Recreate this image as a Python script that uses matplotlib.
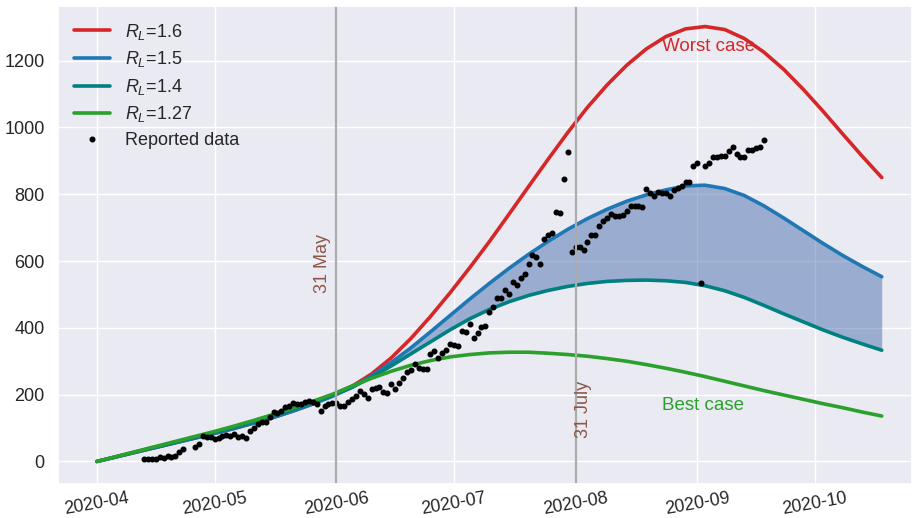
import matplotlib
matplotlib.use("Agg")
import matplotlib.pyplot as plt
import numpy as np
import pandas as pd
import seaborn as sns

# model curves, every 5 days from 2020-04-01
curve_dates = pd.date_range("2020-04-01", "2020-10-18", freq="5D")
r_160 = [0, 14, 28, 42, 56, 70, 84, 99, 115, 132, 151, 172, 197,
         225, 262, 310, 368, 434, 505, 580, 658, 740, 823, 905, 985, 1060,
         1127, 1186, 1235, 1272, 1295, 1302, 1293, 1266, 1225, 1174, 1114,
         1049, 981, 914, 850]
r_150 = [0, 14, 28, 42, 56, 70, 84, 99, 115, 132, 151, 172, 195,
         222, 256, 296, 340, 388, 437, 486, 533, 578, 620, 659, 695, 727,
         755, 779, 798, 813, 825, 827, 817, 796, 765, 729, 691, 653, 617,
         584, 553]
r_140 = [0, 14, 29, 43, 57, 72, 87, 102, 119, 136, 155, 176, 198,
         222, 252, 286, 322, 358, 394, 427, 455, 478, 497, 512, 524, 533,
         539, 542, 543, 541, 536, 526, 511, 491, 467, 442, 418, 394, 372,
         352, 333]
r_127 = [0, 15, 30, 45, 60, 75, 90, 106, 123, 141, 160, 180, 201,
         226, 249, 270, 288, 302, 313, 320, 325, 327, 327, 324, 320, 315,
         308, 300, 290, 279, 267, 254, 240, 226, 212, 199, 186, 173, 161,
         148, 136]

# reported data, daily from 2020-04-13 (two missing days)
report_dates = pd.date_range("2020-04-13", "2020-09-18")
reported = [6.5, 6.5, 6.5, 8.5, 12.5, 9.5, 16.5, 14.5, 16.5, 29.5, 37.5,
            np.nan, np.nan, 44, 52,
            76, 72, 74, 66, 69, 77, 79, 77, 81, 74, 77, 71,
            92, 99, 111, 117, 117,
            134, 149, 144, 152, 162, 167, 174, 171, 171, 179, 181, 177, 172,
            152, 166, 172,
            176, 174, 166, 166, 179, 186, 196, 212, 202, 191, 216, 219, 222,
            209, 204, 232, 216, 236, 249, 269, 274, 292, 279, 277, 277, 322,
            332, 309, 326, 335, 352, 349, 346,
            392, 387, 411, 369, 386, 402, 406, 446, 462, 489, 489, 514, 502,
            538, 529, 549, 562, 592, 617, 612, 592, 666, 678, 685, 748, 744,
            846, 926,
            627, 642, 642, 634, 657, 677, 677, 706, 719, 729, 742, 736, 736,
            737, 751, 764, 764, 764, 762, 816, 803, 794, 806, 803, 803, 796,
            813, 818, 826, 836, 836, 885, 893, 534, 886, 893, 911, 911, 913,
            913, 928, 941, 921, 911, 911, 931, 931, 938, 941, 963]

sns.set_theme(style="darkgrid")
plt.rcParams["font.family"] = ["Liberation Sans", "DejaVu Sans"]
plt.rcParams["mathtext.fontset"] = "custom"
plt.rcParams["mathtext.rm"] = "Liberation Sans"
plt.rcParams["mathtext.it"] = "Liberation Sans:italic"

fig = plt.figure(figsize=(9.17, 5.18), dpi=100)
ax = fig.add_axes([58 / 917, 1 - 483.5 / 518, (912 - 58) / 917, (483.5 - 5.5) / 518])

ax.fill_between(curve_dates, r_140, r_150, color="#4c72b0", alpha=0.5, lw=0)
ax.plot(curve_dates, r_160, color="#d62728", lw=2.6, label="$R_L$=1.6")
ax.plot(curve_dates, r_150, color="#1f77b4", lw=2.6, label="$R_L$=1.5")
ax.plot(curve_dates, r_140, color="#008080", lw=2.6, label="$R_L$=1.4")
ax.plot(curve_dates, r_127, color="#2ca02c", lw=2.6, label="$R_L$=1.27")
ax.plot(report_dates, reported, "o", color="black", ms=3.3, label="Reported data")

# end of May / end of July markers
ax.axvline(pd.Timestamp("2020-06-01"), color="#ababab", lw=1.6)
ax.axvline(pd.Timestamp("2020-08-01"), color="#ababab", lw=1.6)
ax.text(pd.Timestamp("2020-05-28 10:00"), 592, "31 May", rotation=90,
        ha="center", va="center", color="#8c564b", fontsize=13)
ax.text(pd.Timestamp("2020-08-03 00:00"), 157, "31 July", rotation=90,
        ha="center", va="center", color="#8c564b", fontsize=13)
ax.text(pd.Timestamp("2020-08-23"), 1241, "Worst case", ha="left", va="center",
        color="#d62728", fontsize=13.5)
ax.text(pd.Timestamp("2020-08-23"), 169, "Best case", ha="left", va="center",
        color="#2ca02c", fontsize=13.5)

ax.set_xlim(pd.Timestamp("2020-03-22 02:00"), pd.Timestamp("2020-10-25 17:00"))
ax.set_ylim(-66, 1365)
ax.tick_params(axis="both", labelsize=13, colors="#262626")
ax.tick_params(axis="x", labelsize=12.8, pad=-1.5)
plt.setp(ax.get_xticklabels(), rotation=10)

ax.legend(loc="upper left", fontsize=13, frameon=False, labelspacing=0.42)

fig.savefig("out.png", dpi=100)
